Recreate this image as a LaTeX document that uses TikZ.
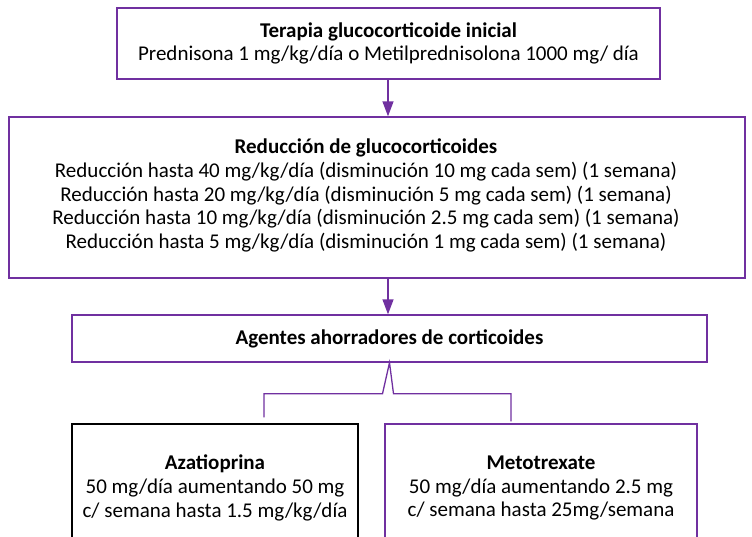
\documentclass[tikz,border=0pt]{standalone}
\usepackage{fontspec}
\setmainfont{Carlito}
\usepackage{xcolor}
\usetikzlibrary{positioning,calc,arrows.meta}
\definecolor{morado}{HTML}{7030A0}

\begin{document}
\begin{tikzpicture}[x=1pt, y=-1pt, auto,
    caja/.style={draw=morado, line width=1.4pt, align=center, inner sep=0pt, font=\fontsize{21}{23.6}\selectfont},
    texto/.style={align=center, inner sep=0pt, font=\fontsize{21}{23.6}\selectfont},
    flecha/.style={draw=morado, line width=1.4pt, -{Triangle[length=15pt,width=11pt]}},
    linea/.style={draw=morado, line width=1.3pt}]
    \useasboundingbox (0,0) rectangle (752,536);
    \node [caja, minimum width=543pt, minimum height=71pt] (ini) at (388.5,43.5)
        {\textbf{Terapia glucocorticoide inicial}\\Prednisona 1 mg/kg/día o Metilprednisolona 1000 mg/ día};
    \node [caja, minimum width=736pt, minimum height=161pt] (red) at (377,197.5) {};
    \node [texto, xshift=-11pt, yshift=2pt] (redtxt) at (red.center)
        {\textbf{Reducción de glucocorticoides}\\
         Reducción hasta 40 mg/kg/día (disminución 10 mg cada sem) (1 semana)\\
         Reducción hasta 20 mg/kg/día (disminución 5 mg cada sem) (1 semana)\\
         Reducción hasta 10 mg/kg/día (disminución 2.5 mg cada sem) (1 semana)\\
         Reducción hasta 5 mg/kg/día (disminución 1 mg cada sem) (1 semana)};
    \node [caja, minimum width=635pt, minimum height=47pt] (ahor) at (389.5,338.5)
        {\textbf{Agentes ahorradores de corticoides}};
    \node [caja, draw=black, line width=1.2pt, minimum width=286pt, minimum height=128pt] (aza) at (215,488)
        {\textbf{Azatioprina}\\50 mg/día aumentando 50 mg\\c/ semana hasta 1.5 mg/kg/día};
    \node [caja, minimum width=312pt, minimum height=128pt] (mtx) at (541,488)
        {\textbf{Metotrexate}\\50 mg/día aumentando 2.5 mg\\c/ semana hasta 25mg/semana};
    \coordinate (izq) at ($(aza.north)+(49,-6)$);
    \coordinate (der) at ($(mtx.north)+(-30,-2)$);

    \draw [flecha] (388,79) coordinate (a1) (ini.south -| a1) -- (red.north -| a1);
    \draw [flecha] (red.south -| a1) -- (ahor.north -| a1);
    \draw [linea] (izq) |- ($(ahor.south)+(-7,31)$) -- (ahor.south) -- ($(ahor.south)+(4,31)$) -| (der); % llave hacia los dos agentes
\end{tikzpicture}
\end{document}
